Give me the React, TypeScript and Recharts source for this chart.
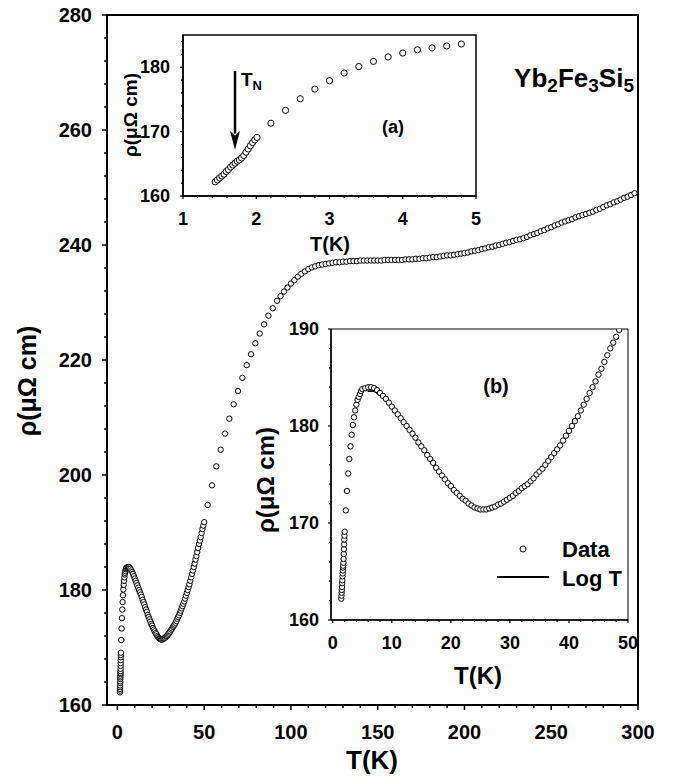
import React from 'react';
import {
  ScatterChart,
  Scatter,
  XAxis,
  YAxis,
  ReferenceArea,
  ReferenceLine,
  ReferenceDot,
  Legend,
} from 'recharts';

const FONT = '"Liberation Sans", Arial, Helvetica, sans-serif';

// ---------- data (T in K, rho in µΩ cm) ----------
const tLow = [1.44, 1.47, 1.5, 1.53, 1.56, 1.59, 1.62, 1.65, 1.68, 1.71, 1.74, 1.77, 1.8, 1.83, 1.86, 1.89, 1.92, 1.95, 1.98, 2.01,
  2.2, 2.4, 2.6, 2.8, 3.0, 3.2, 3.4, 3.6, 3.8, 4.0, 4.2, 4.4, 4.6, 4.8];
const rhoLow = [162.2, 162.5, 162.8, 163.1, 163.4, 163.8, 164.1, 164.5, 164.8, 165.1, 165.4, 165.6, 165.9, 166.3, 166.8, 167.3, 167.8, 168.3, 168.7, 169.1,
  171.3, 173.3, 175.1, 176.6, 177.9, 179.1, 180.1, 180.9, 181.6, 182.2, 182.7, 183.0, 183.3, 183.6];

const tMid = [5.0, 5.5, 6.0, 6.5, 7.0, 7.5, 8.0, 8.5, 9.0, 9.5, 10.0, 10.5, 11.0, 11.5, 12.0, 12.5, 13.0, 13.5, 14.0, 14.5,
  15.0, 15.5, 16.0, 16.5, 17.0, 17.5, 18.0, 18.5, 19.0, 19.5, 20.0, 20.5, 21.0, 21.5, 22.0, 22.5, 23.0, 23.5, 24.0, 24.5,
  25.0, 25.5, 26.0, 26.5, 27.0, 27.5, 28.0, 28.5, 29.0, 29.5, 30.0, 30.5, 31.0, 31.5, 32.0, 32.5, 33.0, 33.5, 34.0, 34.5,
  35.0, 35.5, 36.0, 36.5, 37.0, 37.5, 38.0, 38.5, 39.0, 39.5, 40.0, 40.5, 41.0, 41.5, 42.0, 42.5, 43.0, 43.5, 44.0, 44.5,
  45.0, 45.5, 46.0, 46.5, 47.0, 47.5, 48.0, 48.5, 49.0, 49.5, 50.0];
const rhoMid = [183.8, 183.9, 184.0, 184.0, 183.9, 183.7, 183.4, 183.1, 182.8, 182.4, 182.0, 181.6, 181.2, 180.8, 180.4, 180.0, 179.6, 179.2, 178.8, 178.3,
  177.9, 177.5, 177.0, 176.6, 176.2, 175.7, 175.3, 174.9, 174.5, 174.1, 173.8, 173.4, 173.1, 172.8, 172.5, 172.3, 172.0, 171.8, 171.6, 171.5,
  171.4, 171.4, 171.4, 171.5, 171.6, 171.7, 171.9, 172.0, 172.2, 172.4, 172.6, 172.8, 173.1, 173.3, 173.6, 173.8, 174.0, 174.3, 174.6, 175.0,
  175.3, 175.6, 176.0, 176.4, 176.8, 177.2, 177.6, 178.0, 178.5, 179.0, 179.5, 180.0, 180.5, 181.0, 181.6, 182.2, 182.8, 183.4, 184.0, 184.6,
  185.3, 185.9, 186.6, 187.3, 188.0, 188.6, 189.2, 189.9, 190.6, 191.2, 191.8];

const tSparse = [52.0, 54.5, 57.0, 59.5, 62.0, 64.5, 67.0, 69.5, 72.0, 74.5, 77.0, 79.5, 82.0, 84.5, 87.0, 89.5];
const rhoSparse = [194.8, 198.2, 201.5, 204.4, 207.2, 209.8, 212.3, 214.6, 216.9, 219.1, 221.0, 222.9, 224.6, 226.2, 227.7, 229.0];

const tHigh = [92, 94, 96, 98, 100, 102, 104, 106, 108, 110, 112, 114, 116, 118, 120, 122, 124, 126, 128, 130,
  132, 134, 136, 138, 140, 142, 144, 146, 148, 150, 152, 154, 156, 158, 160, 162, 164, 166, 168, 170,
  172, 174, 176, 178, 180, 182, 184, 186, 188, 190, 192, 194, 196, 198, 200, 202, 204, 206, 208, 210,
  212, 214, 216, 218, 220, 222, 224, 226, 228, 230, 232, 234, 236, 238, 240, 242, 244, 246, 248, 250,
  252, 254, 256, 258, 260, 262, 264, 266, 268, 270, 272, 274, 276, 278, 280, 282, 284, 286, 288, 290,
  292, 294, 296, 298];
const rhoHigh = [230.3, 231.1, 231.9, 232.6, 233.3, 233.9, 234.5, 235.0, 235.4, 235.8, 236.1, 236.3, 236.5, 236.6, 236.7, 236.8, 236.9, 237.0, 237.0, 237.1,
  237.1, 237.2, 237.2, 237.2, 237.3, 237.3, 237.3, 237.3, 237.3, 237.3, 237.3, 237.4, 237.4, 237.4, 237.4, 237.4, 237.4, 237.5, 237.5, 237.5,
  237.6, 237.6, 237.7, 237.7, 237.8, 237.9, 237.9, 238.0, 238.1, 238.2, 238.2, 238.3, 238.4, 238.5, 238.6, 238.7, 238.9, 239.0, 239.1, 239.3,
  239.4, 239.6, 239.7, 239.9, 240.0, 240.2, 240.4, 240.5, 240.7, 240.9, 241.0, 241.2, 241.4, 241.7, 241.9, 242.1, 242.4, 242.6, 242.9, 243.1,
  243.4, 243.6, 243.9, 244.1, 244.3, 244.5, 244.8, 245.0, 245.2, 245.4, 245.6, 245.8, 246.1, 246.3, 246.6, 246.9, 247.1, 247.4, 247.6, 247.9,
  248.2, 248.4, 248.7, 249.0];

// Log T fit line (inset b)
const tLog = [5.9, 7, 8, 10, 12, 14, 16, 18, 20, 22, 24, 25.3];
const rhoLog = [183.6, 183.6, 183.2, 182.0, 180.4, 178.8, 177.0, 175.3, 173.7, 172.4, 171.5, 171.2];

// T_N arrow (inset a)
const tN = 1.71;
const arrowTop = 179.4;
const arrowTip = 167.2;

// ticks
const mainXTicks = [0, 10, 20, 30, 40, 50, 60, 70, 80, 90, 100, 110, 120, 130, 140, 150, 160, 170, 180, 190, 200, 210, 220, 230, 240, 250, 260, 270, 280, 290, 300];
const mainYTicks = [160, 164, 168, 172, 176, 180, 184, 188, 192, 196, 200, 204, 208, 212, 216, 220, 224, 228, 232, 236, 240, 244, 248, 252, 256, 260, 264, 268, 272, 276, 280];
const aXTicks = [1, 1.2, 1.4, 1.6, 1.8, 2, 2.2, 2.4, 2.6, 2.8, 3, 3.2, 3.4, 3.6, 3.8, 4, 4.2, 4.4, 4.6, 4.8, 5];
const aYTicks = [160, 162, 164, 166, 168, 170, 172, 174, 176, 178, 180, 182, 184];
const bXTicks = [0, 2, 4, 6, 8, 10, 12, 14, 16, 18, 20, 22, 24, 26, 28, 30, 32, 34, 36, 38, 40, 42, 44, 46, 48, 50];
const bYTicks = [160, 162, 164, 166, 168, 170, 172, 174, 176, 178, 180, 182, 184, 186, 188, 190];

const pts = (ts: number[], rs: number[]) => ts.map((T, i) => ({ T, rho: rs[i] }));
const allData = [
  ...pts(tLow, rhoLow),
  ...pts(tMid, rhoMid),
  ...pts(tSparse, rhoSparse),
  ...pts(tHigh, rhoHigh),
];
const insetAData = allData.filter((d) => d.T < 4.9 && d.rho <= 185);
const insetBData = allData.filter((d) => d.T <= 50 && d.rho <= 190);
const logData = pts(tLog, rhoLog);

const circleShape = (r: number) => (p: any) => (
  <circle cx={p.cx} cy={p.cy} r={r} fill="#fff" stroke="#000" strokeWidth={1} />
);

const xTick = (isMajor: (v: number) => boolean, majLen: number, minLen: number, dy: number, fs: number, sw: number) =>
  (p: any) => {
    const v = p.payload.value;
    const maj = isMajor(v);
    return (
      <g>
        <line x1={p.x} x2={p.x} y1={p.y} y2={p.y + (maj ? majLen : minLen)} stroke="#000" strokeWidth={sw} />
        {maj && (
          <text x={p.x} y={p.y + dy} textAnchor="middle" dominantBaseline="central" fontFamily={FONT} fontWeight="bold" fontSize={fs} fill="#000">
            {v}
          </text>
        )}
      </g>
    );
  };

const yTick = (isMajor: (v: number) => boolean, majLen: number, minLen: number, gap: number, fs: number, sw: number) =>
  (p: any) => {
    const v = p.payload.value;
    const maj = isMajor(v);
    return (
      <g>
        <line x1={p.x} x2={p.x - (maj ? majLen : minLen)} y1={p.y} y2={p.y} stroke="#000" strokeWidth={sw} />
        {maj && (
          <text x={p.x - gap} y={p.y} textAnchor="end" dominantBaseline="central" fontFamily={FONT} fontWeight="bold" fontSize={fs} fill="#000">
            {v}
          </text>
        )}
      </g>
    );
  };

const arrowHead = (p: any) => (
  <polygon points={`${p.cx},${p.cy} ${p.cx - 5},${p.cy - 19} ${p.cx},${p.cy - 14} ${p.cx + 5},${p.cy - 19}`} fill="#000" />
);

const legendB = (props: any) => {
  const items = (props && props.payload) || [];
  const dataName = (items.find((i: any) => i.type === 'circle') || { value: 'Data' }).value;
  const lineName = (items.find((i: any) => i.type === 'line') || { value: 'Log T' }).value;
  return (
    <svg width={140} height={62}>
      <circle cx={33} cy={14} r={3} fill="#fff" stroke="#000" strokeWidth={1} />
      <text x={72} y={22} fontFamily={FONT} fontWeight="bold" fontSize={22} fill="#000">{dataName}</text>
      <line x1={7} x2={59} y1={42} y2={42} stroke="#000" strokeWidth={2} />
      <text x={72} y={51} fontFamily={FONT} fontWeight="bold" fontSize={22} fill="#000">{lineName}</text>
    </svg>
  );
};

const txt = { fontFamily: FONT, fontWeight: 'bold' as const, fill: '#000' };

export default function App() {
  return (
    <div style={{ position: 'relative', width: 677, height: 776, margin: '-8px 0 0 -8px', background: '#fff' }}>
      {/* main chart */}
      <div style={{ position: 'absolute', left: 0, top: 0 }}>
        <ScatterChart width={677} height={776} margin={{ top: 15, right: 39, bottom: 0, left: 0 }}>
          <XAxis type="number" dataKey="T" domain={[-6, 300]} allowDataOverflow ticks={mainXTicks} interval={0}
            height={71} tickSize={0} tickMargin={0} tickLine={false} axisLine={{ stroke: '#000', strokeWidth: 2 }}
            tick={xTick((v) => v % 50 === 0, 5, 3, 27, 20, 1.5)} />
          <YAxis type="number" dataKey="rho" domain={[160, 280]} allowDataOverflow ticks={mainYTicks} interval={0}
            width={107} tickSize={0} tickMargin={0} tickLine={false} axisLine={{ stroke: '#000', strokeWidth: 2 }}
            tick={yTick((v) => v % 20 === 0, 5, 3, 15, 20, 1.5)} />
          <ReferenceArea x1={-6} x2={300} y1={160} y2={280} fill="none" fillOpacity={0} stroke="#000" strokeWidth={2} />
          <Scatter name="Data" data={allData} shape={circleShape(2.7)} isAnimationActive={false} />
        </ScatterChart>
      </div>

      {/* inset (a) */}
      <div style={{ position: 'absolute', left: 100, top: 15 }}>
        <ScatterChart width={400} height={245} margin={{ top: 20, right: 24, bottom: 0, left: 0 }}>
          <XAxis type="number" dataKey="T" domain={[1, 5]} allowDataOverflow ticks={aXTicks} interval={0}
            height={64} tickSize={0} tickMargin={0} tickLine={false} axisLine={{ stroke: '#000', strokeWidth: 1.5 }}
            tick={xTick((v) => Math.abs(v - Math.round(v)) < 1e-6, 3, 2, 23, 18, 1.2)} />
          <YAxis type="number" dataKey="rho" domain={[160, 185]} allowDataOverflow ticks={aYTicks} interval={0}
            width={83} tickSize={0} tickMargin={0} tickLine={false} axisLine={{ stroke: '#000', strokeWidth: 1.5 }}
            tick={yTick((v) => v % 10 === 0, 3, 2, 13, 18, 1.2)} />
          <ReferenceArea x1={1} x2={5} y1={160} y2={185} fill="none" fillOpacity={0} stroke="#000" strokeWidth={1.5} />
          <ReferenceLine segment={[{ x: tN, y: arrowTop }, { x: tN, y: arrowTip + 2.5 }]} stroke="#000" strokeWidth={2.5} />
          <ReferenceDot x={tN} y={arrowTip} shape={arrowHead} />
          <Scatter name="Data" data={insetAData} shape={circleShape(3.1)} isAnimationActive={false} />
        </ScatterChart>
      </div>

      {/* inset (b) */}
      <div style={{ position: 'absolute', left: 250, top: 310 }}>
        <ScatterChart width={400} height={400} margin={{ top: 19, right: 22, bottom: 0, left: 0 }}>
          <XAxis type="number" dataKey="T" domain={[-0.3, 50]} allowDataOverflow ticks={bXTicks} interval={0}
            height={90} tickSize={0} tickMargin={0} tickLine={false} axisLine={{ stroke: '#000', strokeWidth: 1.5 }}
            tick={xTick((v) => v % 10 === 0, 3, 2, 23, 18, 1.2)} />
          <YAxis type="number" dataKey="rho" domain={[160, 190]} allowDataOverflow ticks={bYTicks} interval={0}
            width={81} tickSize={0} tickMargin={0} tickLine={false} axisLine={{ stroke: '#000', strokeWidth: 1.5 }}
            tick={yTick((v) => v % 10 === 0, 3, 2, 12, 18, 1.2)} />
          <ReferenceArea x1={-0.3} x2={50} y1={160} y2={190} fill="none" fillOpacity={0} stroke="#000" strokeWidth={1} />
          <Scatter name="Log T" data={logData} line={{ stroke: '#000', strokeWidth: 1.8 }} shape={() => <g />}
            legendType="line" isAnimationActive={false} />
          <Scatter name="Data" data={insetBData} shape={circleShape(2.7)} legendType="circle" isAnimationActive={false} />
          <Legend layout="vertical" align="center" verticalAlign="middle" content={legendB}
            wrapperStyle={{ left: 240, top: 225, width: 140, height: 62 }} />
        </ScatterChart>
      </div>

      {/* text overlay */}
      <svg width={677} height={776} style={{ position: 'absolute', left: 0, top: 0, pointerEvents: 'none' }}>
        <text {...txt} x={27} y={381} fontSize={25} textAnchor="middle" dominantBaseline="central" transform="rotate(-90 27 381)">ρ(μΩ cm)</text>
        <text {...txt} x={372} y={760} fontSize={26} textAnchor="middle" dominantBaseline="central">T(K)</text>

        <text {...txt} x={130} y={115} fontSize={19} textAnchor="middle" dominantBaseline="central" transform="rotate(-90 130 115)">ρ(μΩ cm)</text>
        <text {...txt} x={330} y={244} fontSize={20} textAnchor="middle" dominantBaseline="central">T(K)</text>
        <text {...txt} x={393} y={127} fontSize={18} textAnchor="middle" dominantBaseline="central">(a)</text>
        <text {...txt} x={241} y={86} fontSize={19}>T<tspan fontSize={13} dy={4}>N</tspan></text>

        <text {...txt} x={265} y={480} fontSize={24} textAnchor="middle" dominantBaseline="central" transform="rotate(-90 265 480)">ρ(μΩ cm)</text>
        <text {...txt} x={478} y={675} fontSize={24} textAnchor="middle" dominantBaseline="central">T(K)</text>
        <text {...txt} x={496} y={386} fontSize={20} textAnchor="middle" dominantBaseline="central">(b)</text>

        <text {...txt} x={634} y={87} fontSize={26} textAnchor="end">
          Yb<tspan fontSize={19} dy={5}>2</tspan><tspan dy={-5}>Fe</tspan><tspan fontSize={19} dy={5}>3</tspan><tspan dy={-5}>Si</tspan><tspan fontSize={19} dy={5}>5</tspan>
        </text>
      </svg>
    </div>
  );
}
